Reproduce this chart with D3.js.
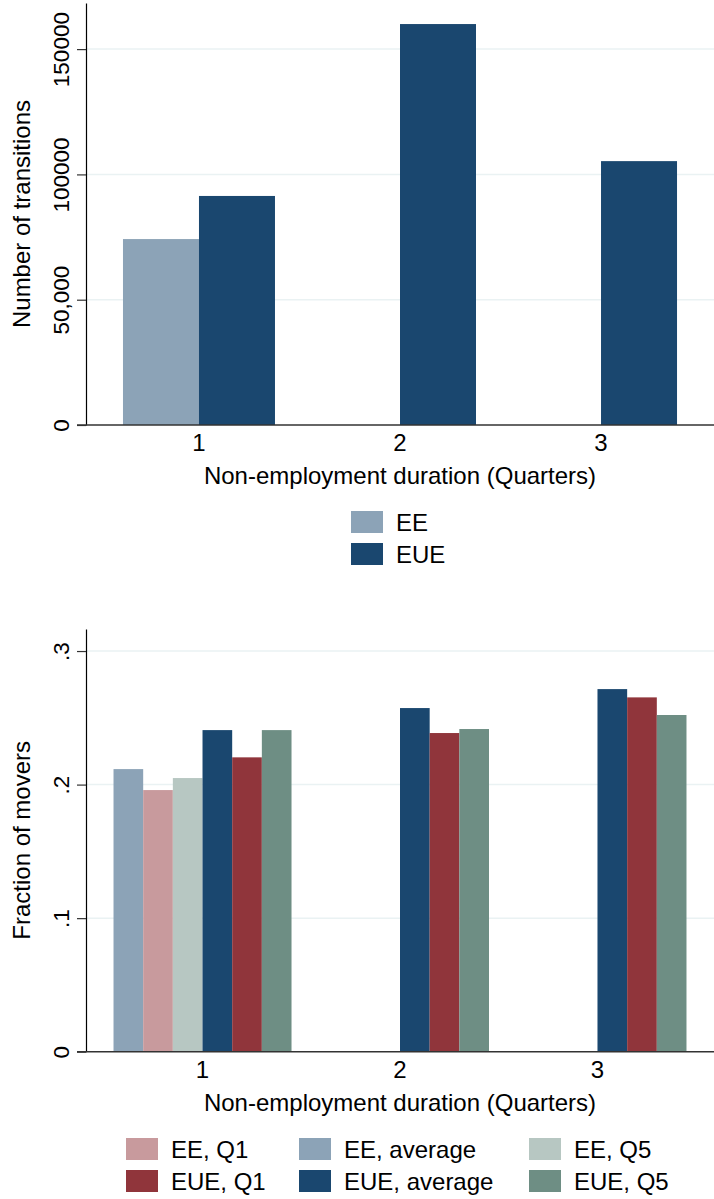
<!DOCTYPE html>
<html>
<head>
<meta charset="utf-8">
<script src="https://cdn.jsdelivr.net/npm/d3@7"></script>
<style>
  body { margin: 0; background: #fff; }
  text { font-family: "Liberation Sans", Arial, Helvetica, sans-serif; fill: #000; }
</style>
</head>
<body>
<svg width="714" height="1199"></svg>
<script>
// top panel: number of transitions
const durations = [1, 2, 3];
const countSeries = ["EE", "EUE"];
const countEE = [74200, null, null];
const countEUE = [91400, 160000, 105300];
const countTicks = [0, 50000, 100000, 150000];
const countTickLabels = ["0", "50,000", "100000", "150000"];

// bottom panel: fraction of movers
const fracSeries = ["EE, average", "EE, Q1", "EE, Q5", "EUE, average", "EUE, Q1", "EUE, Q5"];
const fracEEavg = [0.2116, null, null];
const fracEEq1 = [0.1959, null, null];
const fracEEq5 = [0.2049, null, null];
const fracEUEavg = [0.2408, 0.2573, 0.2715];
const fracEUEq1 = [0.2204, 0.2386, 0.2653];
const fracEUEq5 = [0.2408, 0.2416, 0.2521];
const fracTicks = [0, 0.1, 0.2, 0.3];
const fracTickLabels = ["0", ".1", ".2", ".3"];
const fracLegendOrder = ["EE, Q1", "EE, average", "EE, Q5", "EUE, Q1", "EUE, average", "EUE, Q5"];

const colors = {
  "EE": "#8ca3b7",
  "EUE": "#1a476f",
  "EE, average": "#8ca3b7",
  "EE, Q1": "#c89a9d",
  "EE, Q5": "#b7c7c2",
  "EUE, average": "#1a476f",
  "EUE, Q1": "#90353b",
  "EUE, Q5": "#6e8e84"
};

const svg = d3.select("svg");
const fs = 24;      // titles, category labels, legend
const tfs = 22.5;   // y tick labels
const left = 86, right = 714;

function panel(opts) {
  const g = svg.append("g");
  const x = d3.scalePoint().domain(durations).range([left, right]).padding(opts.pad);
  const xi = d3.scaleBand().domain(opts.series).range([-opts.half, opts.half]);
  const y = d3.scaleLinear().domain([0, opts.ymax]).range([opts.bottom, opts.top]);

  // gridlines
  g.append("g")
    .selectAll("line")
    .data(opts.ticks.filter(d => d > 0))
    .join("line")
    .attr("x1", left).attr("x2", right)
    .attr("y1", d => y(d)).attr("y2", d => y(d))
    .attr("stroke", "#eaf2f3")
    .attr("stroke-width", 1.5);

  // bars
  const rows = [];
  opts.series.forEach((s, si) => {
    opts.values[si].forEach((v, i) => {
      if (v != null) rows.push({ s: s, d: durations[i], v: v });
    });
  });
  g.append("g")
    .selectAll("rect")
    .data(rows)
    .join("rect")
    .attr("x", d => x(d.d) + xi(d.s))
    .attr("width", xi.bandwidth())
    .attr("y", d => y(d.v))
    .attr("height", d => y(0) - y(d.v))
    .attr("fill", d => colors[d.s]);

  // y axis
  const yAxis = d3.axisLeft(y)
    .tickValues(opts.ticks)
    .tickFormat((d, i) => opts.tickLabels[i])
    .tickSize(9)
    .tickSizeOuter(0);
  const ya = g.append("g").attr("transform", `translate(${left},0)`).call(yAxis);
  ya.select(".domain").attr("stroke", "#000").attr("stroke-width", 1.2);
  ya.selectAll(".tick line").attr("stroke", "#333").attr("stroke-width", 1.2);
  ya.selectAll(".tick text")
    .attr("font-size", tfs)
    .attr("fill", "#000")
    .attr("text-anchor", "middle")
    .attr("x", null).attr("dy", null)
    .attr("transform", "translate(-17,0) rotate(-90)");

  // x baseline and labels
  g.append("line")
    .attr("x1", left - 9).attr("x2", right)
    .attr("y1", y(0)).attr("y2", y(0))
    .attr("stroke", "#333").attr("stroke-width", 1.5);
  g.append("g")
    .selectAll("text")
    .data(durations)
    .join("text")
    .attr("x", d => x(d))
    .attr("y", opts.bottom + 26)
    .attr("text-anchor", "middle")
    .attr("font-size", fs)
    .text(d => d);
  g.append("text")
    .attr("x", (left + right) / 2)
    .attr("y", opts.bottom + 59)
    .attr("text-anchor", "middle")
    .attr("font-size", fs)
    .text("Non-employment duration (Quarters)");
  g.append("text")
    .attr("transform", `translate(30,${(opts.top + opts.bottom) / 2}) rotate(-90)`)
    .attr("text-anchor", "middle")
    .attr("font-size", fs)
    .text(opts.ytitle);
  return g;
}

panel({
  series: countSeries,
  values: [countEE, countEUE],
  ticks: countTicks,
  tickLabels: countTickLabels,
  ymax: 168400,
  top: 3, bottom: 425,
  pad: 0.562, half: 76,
  ytitle: "Number of transitions"
});

panel({
  series: fracSeries,
  values: [fracEEavg, fracEEq1, fracEEq5, fracEUEavg, fracEUEq1, fracEUEq5],
  ticks: fracTicks,
  tickLabels: fracTickLabels,
  ymax: 0.3165,
  top: 629, bottom: 1051.7,
  pad: 0.59, half: 89,
  ytitle: "Fraction of movers"
});

// legends
const leg1 = svg.append("g").selectAll("g")
  .data(countSeries)
  .join("g")
  .attr("transform", (d, i) => `translate(351,${511 + i * 32})`);
leg1.append("rect").attr("width", 32).attr("height", 22).attr("fill", d => colors[d]);
leg1.append("text").attr("x", 45).attr("y", 20).attr("font-size", fs).text(d => d);

const colX = [126, 299, 529];
const leg2 = svg.append("g").selectAll("g")
  .data(fracLegendOrder)
  .join("g")
  .attr("transform", (d, i) => `translate(${colX[i % 3]},${1138 + Math.floor(i / 3) * 32})`);
leg2.append("rect").attr("width", 32).attr("height", 22).attr("fill", d => colors[d]);
leg2.append("text").attr("x", 45).attr("y", 20).attr("font-size", fs).text(d => d);
</script>
</body>
</html>
